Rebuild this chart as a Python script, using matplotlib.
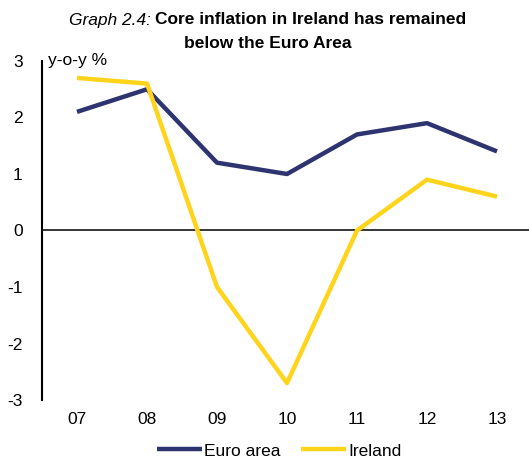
import matplotlib
matplotlib.use("Agg")
import matplotlib.pyplot as plt

plt.rcParams['font.family'] = ['Liberation Sans', 'DejaVu Sans']
plt.rcParams['axes.unicode_minus'] = False

years = ["07", "08", "09", "10", "11", "12", "13"]
euro_area = [2.1, 2.5, 1.2, 1.0, 1.7, 1.9, 1.4]
ireland = [2.7, 2.6, -1.0, -2.7, 0.0, 0.9, 0.6]

navy = "#2e3470"
yellow = "#ffd41a"
fs = 12.5

fig = plt.figure(figsize=(5.29, 4.59), dpi=100)
ax = fig.add_axes([42 / 529, 59 / 459, 487 / 529, 339 / 459])

x = list(range(len(years)))
ax.plot(x, euro_area, color=navy, lw=3.2, label="Euro area", solid_capstyle='butt')
ax.plot(x, ireland, color=yellow, lw=3.2, label="Ireland", solid_capstyle='butt')
ax.axhline(0, color="black", lw=1.1, zorder=1)

ax.set_xlim(-0.5, -0.5 + 487 / 70)
ax.set_ylim(-3, 3)
ax.set_yticks([-3, -2, -1, 0, 1, 2, 3])
ax.set_xticks(x)
ax.set_xticklabels(years)
ax.tick_params(axis='both', length=0, labelsize=fs)
ax.tick_params(axis='y', pad=14)
ax.tick_params(axis='x', pad=9)

for s in ["top", "right", "bottom"]:
    ax.spines[s].set_visible(False)
ax.spines["left"].set_linewidth(1.5)

ax.text(0.012, 1.0, "y-o-y %", transform=ax.transAxes, fontsize=fs,
        ha='left', va='center')

fig.text(151 / 529, 1 - 20 / 459, "Graph 2.4:", style='italic', fontsize=fs,
         ha='right', va='center')
fig.text(155 / 529, 1 - 20 / 459, "Core inflation in Ireland has remained",
         fontweight='bold', fontsize=fs, ha='left', va='center')
fig.text(268 / 529, 1 - 44 / 459, "below the Euro Area",
         fontweight='bold', fontsize=fs, ha='center', va='center')

fig.legend(loc='center', bbox_to_anchor=(279 / 529, 1 - 451 / 459), ncol=2,
           frameon=False, fontsize=fs, handlelength=2.6, handletextpad=0.1,
           columnspacing=1.2)

fig.savefig("out.png", dpi=100)
